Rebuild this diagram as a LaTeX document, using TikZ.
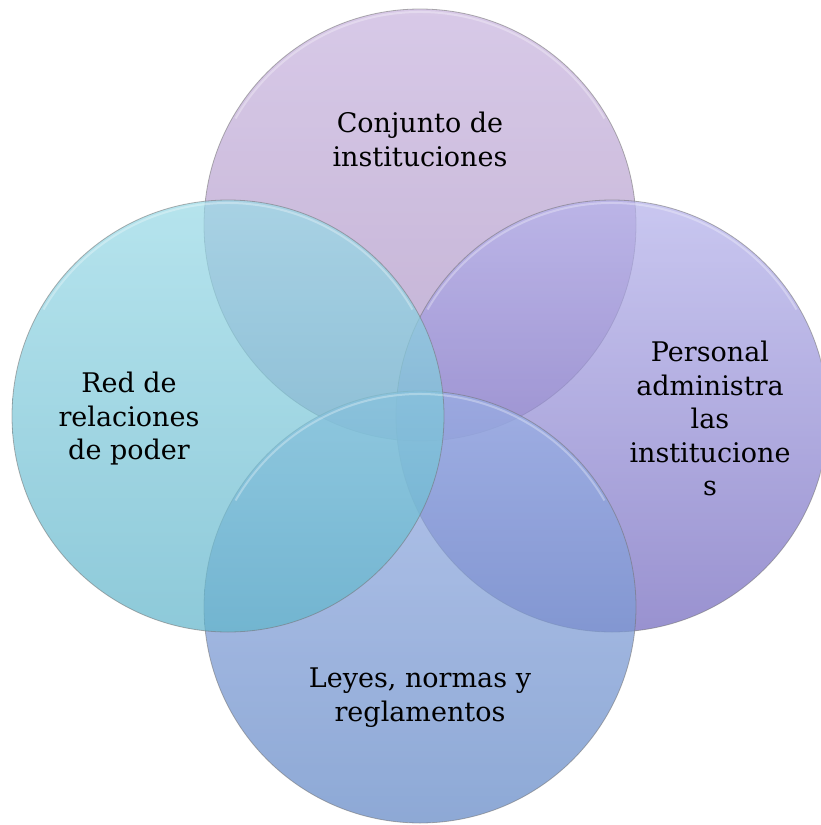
\documentclass[tikz,border=0pt]{standalone}
\usepackage{fontspec}
\setmainfont{DejaVu Serif}
\usetikzlibrary{calc}
\begin{document}
\begin{tikzpicture}[x=1pt,y=-1pt,
  venn/.style={circle, inner sep=0pt, minimum size=432pt, fill opacity=0.72,
    draw=black!55, draw opacity=0.55, line width=0.8pt},
  lbl/.style={inner sep=0pt, align=center, text=black, font=\fontsize{27}{33.5}\selectfont}
]
\definecolor{topA}{RGB}{201,181,223}
\definecolor{topB}{RGB}{170,146,194}
\definecolor{lefA}{RGB}{154,218,231}
\definecolor{lefB}{RGB}{98,181,203}
\definecolor{rigA}{RGB}{181,178,235}
\definecolor{rigB}{RGB}{114,104,190}
\definecolor{botA}{RGB}{153,175,228}
\definecolor{botB}{RGB}{98,136,198}
\useasboundingbox (0,0) rectangle (820,825);
\fill[white] (0,0) rectangle (820,825);

\node[venn, top color=topA, bottom color=topB] (ctop) at (420,225) {};
\node[venn, top color=rigA, bottom color=rigB] (cright) at (612,416) {};
\node[venn, top color=botA, bottom color=botB] (cbot) at (420,607) {};
\node[venn, top color=lefA, bottom color=lefB] (cleft) at (228,416) {};

% soft highlights on upper rims
\foreach \c in {ctop,cright,cbot,cleft}{
  \draw[white, line width=2pt, draw opacity=0.3]
    ($(\c.center)+(-30:213)$) arc[start angle=-30, end angle=-150, radius=213];
}

% labels
\node[lbl] (ttext) at (420,139.5) {Conjunto de\\instituciones};
\node[lbl] (ltext) at (129,419) {Red de\\relaciones\\de poder};
\node[lbl] (rtext) at (710,418.5) {Personal\\administra\\las\\institucione\\s};
\node[lbl] (btext) at (420,697.5) {Leyes, normas y\\reglamentos};
\end{tikzpicture}
\end{document}
